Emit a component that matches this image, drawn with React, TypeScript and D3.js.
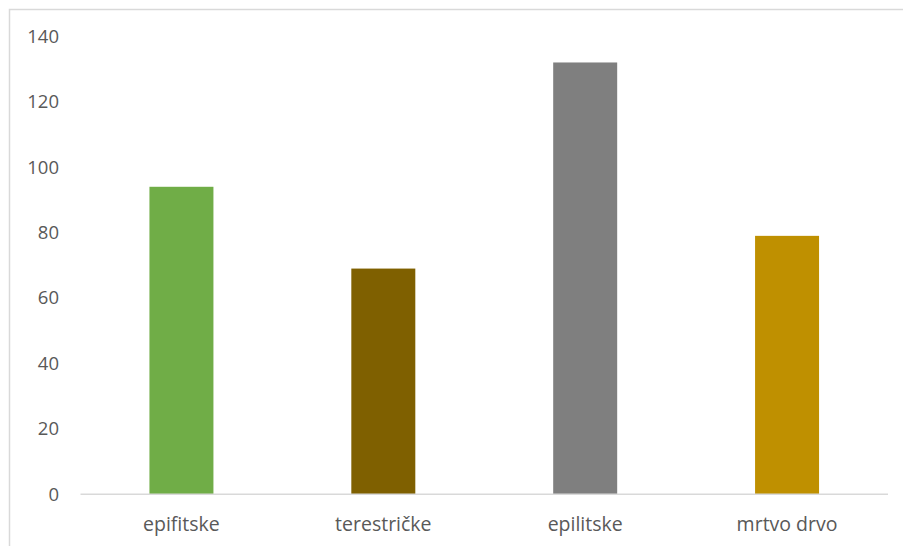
import React from "react";
import * as d3 from "d3";

const categories = ["epifitske", "terestričke", "epilitske", "mrtvo drvo"];
const values = [94, 69, 132, 79];
const colors = ["#70AD47", "#7F6000", "#7F7F7F", "#BF9000"];
const yTicks = [0, 20, 40, 60, 80, 100, 120, 140];

const W = 903;
const H = 546;

export default function App() {
  const x = d3
    .scaleBand<string>()
    .domain(categories)
    .range([80.5, 888])
    .paddingInner(0.683)
    .paddingOuter(0.3415);
  const y = d3.scaleLinear().domain([0, 140]).range([494.3, 36.3]);
  const font = "'Open Sans', 'Liberation Sans', sans-serif";

  return (
    <svg
      width={W}
      height={H}
      style={{ position: "absolute", left: 0, top: 0, background: "#fff" }}
    >
      <rect x={9.5} y={9.5} width={1000} height={1000} fill="#fff" stroke="#D9D9D9" strokeWidth={1.5} />
      {categories.map((c, i) => (
        <rect
          key={c}
          x={x(c)}
          y={y(values[i])}
          width={x.bandwidth()}
          height={y(0) - y(values[i])}
          fill={colors[i]}
        />
      ))}
      <line x1={80.5} x2={888} y1={y(0)} y2={y(0)} stroke="#D9D9D9" strokeWidth={1.5} />
      {yTicks.map((t) => (
        <text
          key={t}
          x={59}
          y={y(t)}
          dy="0.35em"
          textAnchor="end"
          fontFamily={font}
          fontSize={18.5}
          fill="#595959"
        >
          {t}
        </text>
      ))}
      {categories.map((c) => (
        <text
          key={c}
          x={(x(c) as number) + x.bandwidth() / 2}
          y={524}
          dy="0.35em"
          textAnchor="middle"
          fontFamily={font}
          fontSize={19.5}
          fill="#595959"
        >
          {c}
        </text>
      ))}
    </svg>
  );
}
